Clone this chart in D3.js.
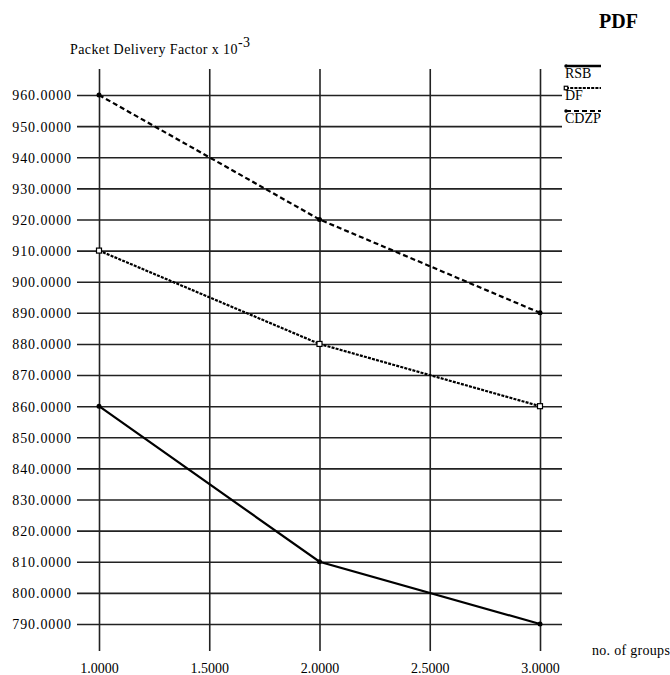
<!DOCTYPE html>
<html>
<head>
<meta charset="utf-8">
<script src="https://cdn.jsdelivr.net/npm/d3@7"></script>
<style>
  html, body { margin: 0; padding: 0; background: #fff; }
  svg { display: block; }
  text { font-family: "Liberation Serif", "DejaVu Serif", serif; fill: #000; }
</style>
</head>
<body>
<svg id="chart" width="670" height="675"></svg>
<script>
// Number of groups on the x axis
const groups = [1, 2, 3];
// Packet delivery factor (x 10^-3) for each protocol
const rsb = [860, 810, 790];
const df = [910, 880, 860];
const cdzp = [960, 920, 890];
const seriesNames = ["RSB", "DF", "CDZP"];
// Axis ticks
const xTicks = [1.0, 1.5, 2.0, 2.5, 3.0];
const yTicks = [790, 800, 810, 820, 830, 840, 850, 860, 870, 880, 890, 900, 910, 920, 930, 940, 950, 960];

const svg = d3.select("#chart");

const x = d3.scaleLinear().domain([1, 3]).range([99, 540]);
const y = d3.scaleLinear().domain([790, 960]).range([624, 95]);

const gridColor = "#222";

// Horizontal grid with left-side labels
const yAxis = d3.axisLeft(y)
  .tickValues(yTicks)
  .tickSize(-(562 - 77))
  .tickPadding(5)
  .tickFormat(d3.format(".4f"));
const gy = svg.append("g").attr("transform", "translate(77,0)").call(yAxis);
gy.select(".domain").remove();
gy.selectAll(".tick line").attr("stroke", gridColor).attr("stroke-width", 1.6);
gy.selectAll(".tick text")
  .attr("font-size", 14)
  .attr("letter-spacing", "0.9px")
  .attr("font-family", "Liberation Serif, serif")
  .attr("dy", "0.35em");

// Vertical grid with bottom labels
const xAxis = d3.axisBottom(x)
  .tickValues(xTicks)
  .tickSize(-(651 - 69))
  .tickPadding(0)
  .tickFormat(d3.format(".4f"));
const gx = svg.append("g").attr("transform", "translate(0,651)").call(xAxis);
gx.select(".domain").remove();
gx.selectAll(".tick line").attr("stroke", gridColor).attr("stroke-width", 1.6);
gx.selectAll(".tick text")
  .attr("font-size", 14)
  .attr("font-family", "Liberation Serif, serif")
  .attr("y", 22)
  .attr("dy", 0);

// Series definitions
const series = [
  { name: seriesNames[0], values: rsb, dash: null, marker: "dot" },
  { name: seriesNames[1], values: df, dash: "3,1.2", marker: "square" },
  { name: seriesNames[2], values: cdzp, dash: "5,3", marker: "dot" }
];

const line = d3.line().x(d => x(d[0])).y(d => y(d[1]));

function drawMarker(g, cx, cy, kind, size) {
  if (kind === "square") {
    const h = size / 2;
    g.append("rect").attr("x", cx - h).attr("y", cy - h)
      .attr("width", size).attr("height", size)
      .attr("fill", "#fff").attr("stroke", "#000").attr("stroke-width", 1.2);
  } else {
    g.append("circle").attr("cx", cx).attr("cy", cy).attr("r", size / 2).attr("fill", "#000");
  }
}

series.forEach(s => {
  const pts = groups.map((g, i) => [g, s.values[i]]);
  const g = svg.append("g");
  g.append("path")
    .attr("d", line(pts))
    .attr("fill", "none")
    .attr("stroke", "#000")
    .attr("stroke-width", 2.2)
    .attr("stroke-dasharray", s.dash);
  pts.forEach(p => drawMarker(g, x(p[0]), y(p[1]), s.marker, 5));
});

// Legend
const legendY = [66, 88, 111];
series.forEach((s, i) => {
  const g = svg.append("g");
  const ly = legendY[i];
  g.append("line").attr("x1", 566).attr("x2", 601).attr("y1", ly).attr("y2", ly)
    .attr("stroke", "#000").attr("stroke-width", s.dash ? 1.8 : 2.4)
    .attr("stroke-dasharray", s.dash);
  drawMarker(g, 566, ly, s.marker, 3.5);
  g.append("text").attr("x", 565).attr("y", ly + 12)
    .attr("font-size", 14).text(s.name);
});

// Title
svg.append("text").attr("x", 599).attr("y", 28)
  .attr("font-size", 20).attr("font-weight", "bold").text("PDF");

// Y axis title with exponent
const yt = svg.append("text").attr("x", 70).attr("y", 54)
  .attr("font-size", 14).attr("letter-spacing", "0.4px");
yt.append("tspan").text("Packet Delivery Factor  x 10");
yt.append("tspan").attr("dy", -7).attr("font-size", 14).text("-3");

// X axis title
svg.append("text").attr("x", 592).attr("y", 655).attr("font-size", 14)
  .attr("letter-spacing", "0.3px").text("no. of groups");
</script>
</body>
</html>
